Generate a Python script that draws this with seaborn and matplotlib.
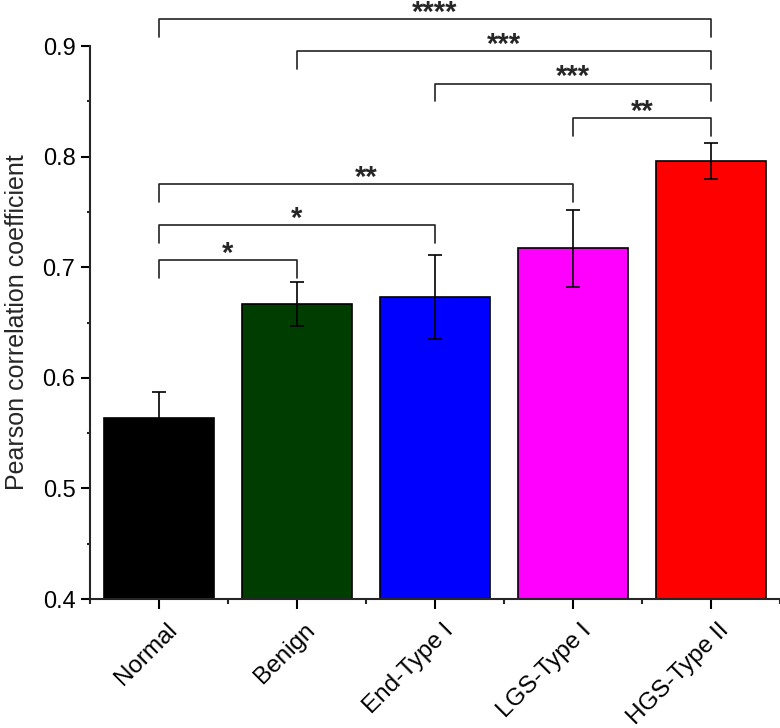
import matplotlib
matplotlib.use('Agg')
import matplotlib.pyplot as plt
import matplotlib.transforms as mtransforms
import seaborn as sns
import numpy as np
from matplotlib.ticker import FixedLocator

# bar data
groups = ['Normal', 'Benign', 'End-Type I', 'LGS-Type I', 'HGS-Type II']
means = [0.564, 0.667, 0.673, 0.717, 0.796]
errors = [0.023, 0.020, 0.038, 0.035, 0.016]
bar_colors = ['#000000', '#003D00', '#0000FF', '#FF00FF', '#FF0000']

# significance brackets
pair_left = [0, 1, 2, 3, 0, 0, 0]
pair_right = [4, 4, 4, 4, 3, 2, 1]
bracket_y = [0.924, 0.8955, 0.866, 0.835, 0.775, 0.738, 0.7065]
stars = ['****', '***', '***', '**', '**', '*', '*']

sns.set_style('ticks')
plt.rcParams['font.family'] = ['Liberation Sans', 'DejaVu Sans']

fig = plt.figure(figsize=(7.8, 7.28), dpi=100)
ax = fig.add_axes([90 / 780, 129 / 728, 690 / 780, 599 / 728])

sns.barplot(x=groups, y=means, hue=groups, palette=bar_colors, legend=False,
            width=0.8, edgecolor='black', linewidth=1.2, errorbar=None,
            saturation=1, ax=ax)
ax.errorbar(np.arange(len(groups)), means, yerr=errors, fmt='none',
            ecolor='black', elinewidth=1.2, capsize=5, capthick=1.2, zorder=5)

# brackets
leg = 0.016
for l, r, y, s in zip(pair_left, pair_right, bracket_y, stars):
    ax.plot([l, l, r, r], [y - leg, y, y, y - leg], color='#222222', lw=1.2,
            clip_on=False, zorder=6)
    ax.text((l + r) / 2, y - 0.0015, s, ha='center', va='baseline',
            fontsize=21, fontweight='bold', clip_on=False)

ax.set_xlim(-0.5, 4.5)
ax.set_ylim(0.4, 0.9416)
ax.yaxis.set_major_locator(FixedLocator([0.4, 0.5, 0.6, 0.7, 0.8, 0.9]))
ax.yaxis.set_minor_locator(FixedLocator([0.45, 0.55, 0.65, 0.75, 0.85]))
ax.xaxis.set_minor_locator(FixedLocator([-0.5, 0.5, 1.5, 2.5, 3.5, 4.5]))
ax.yaxis.set_major_formatter(matplotlib.ticker.FormatStrFormatter('%.1f'))

for side in ['top', 'right']:
    ax.spines[side].set_visible(False)
for side in ['left', 'bottom']:
    ax.spines[side].set_linewidth(1.5)
ax.spines['left'].set_bounds(0.4, 0.9)

ax.tick_params(axis='both', which='major', direction='out', width=1.5,
               colors='black')
ax.tick_params(axis='y', which='major', length=6.5, pad=4, labelsize=17)
ax.tick_params(axis='y', which='minor', direction='out', length=2.5, width=1.5)
ax.tick_params(axis='x', which='major', length=7, pad=4)
ax.tick_params(axis='x', which='minor', direction='out', length=3.5, width=1.5)

ax.set_xticks(range(len(groups)))
ax.set_xticklabels(groups, rotation=45, ha='right', rotation_mode='anchor',
                   fontsize=17.5)
shift = mtransforms.ScaledTranslation(7 / 100, -5 / 100, fig.dpi_scale_trans)
for lab in ax.get_xticklabels():
    lab.set_transform(lab.get_transform() + shift)
ax.set_xlabel('')
ax.set_ylabel('Pearson correlation coefficient', fontsize=18)
ax.yaxis.set_label_coords(-0.088, (0.65 - 0.4) / (0.9416 - 0.4))

fig.savefig('out.png', dpi=100)
